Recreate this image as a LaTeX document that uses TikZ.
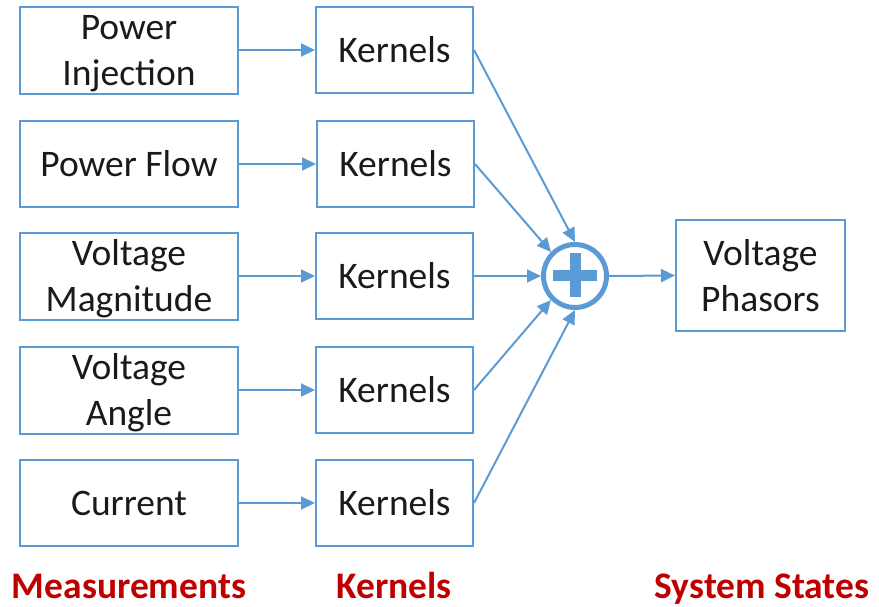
\documentclass[tikz,border=0pt]{standalone}
\usepackage{fontspec}
\setmainfont{Carlito}
\usetikzlibrary{arrows.meta}
\definecolor{boxblue}{HTML}{5B9BD5}
\definecolor{labred}{HTML}{C00000}
\definecolor{txt}{HTML}{1A1A1A}
\newcommand{\twoline}[2]{\rule{0pt}{33pt}#1\\#2\rule[-8pt]{0pt}{8pt}}
\begin{document}
\begin{tikzpicture}[x=1pt,y=-1pt,
  every node/.style={font=\fontsize{37.5}{46}\selectfont, text=txt},
  mbox/.style={draw=boxblue, line width=2pt, inner sep=0pt, minimum width=218pt, minimum height=86pt, align=center},
  kbox/.style={draw=boxblue, line width=2pt, inner sep=0pt, minimum width=157pt, minimum height=86pt, align=center},
  sbox/.style={draw=boxblue, line width=2pt, inner sep=0pt, minimum width=169pt, minimum height=111pt, align=center},
  arr/.style={draw=boxblue, line width=2pt, -{Triangle[length=14pt,width=13pt]}},
  lab/.style={font=\fontsize{37.5}{46}\selectfont\bfseries, text=labred, inner sep=0pt, anchor=base}]
\useasboundingbox (0,0) rectangle (879,606);
\node[mbox] (m1) at (129,50) {\twoline{Power}{Injection}};
\node[mbox] (m2) at (129,164) {Power Flow};
\node[mbox] (m3) at (129,276) {\twoline{Voltage}{Magnitude}};
\node[mbox] (m4) at (129,390) {\twoline{Voltage}{Angle}};
\node[mbox] (m5) at (129,503) {Current};
\node[kbox] (k1) at (394.5,50) {Kernels};
\node[kbox] (k2) at (395.5,164) {Kernels};
\node[kbox] (k3) at (394.5,276) {Kernels};
\node[kbox] (k4) at (394.5,390) {Kernels};
\node[kbox] (k5) at (394.5,503) {Kernels};
\node[draw=boxblue, line width=5pt, circle, inner sep=0pt, minimum size=63pt] (sum) at (575,276) {};
\fill[boxblue] (553,270) rectangle (597,281);
\fill[boxblue] (569.5,253) rectangle (580.5,297);
\node[sbox] (s) at (760.5,275.5) {\twoline{Voltage}{Phasors}};
\foreach \i in {1,...,5} {\draw[arr] (m\i.east) -- (k\i.west);}
\draw[arr] (k1.east) -- (sum.90);
\draw[arr] (k2.east) -- (sum.135);
\draw[arr] (k3.east) -- (sum.180);
\draw[arr] (k4.east) -- (sum.225);
\draw[arr] (k5.east) -- (sum.270);
\draw[arr] (sum.east) -- (s.west);
\node[lab] (l1) at (129,598) {Measurements};
\node[lab] (l2) at (394,598) {Kernels};
\node[lab] (l3) at (762,598) {System States};
\end{tikzpicture}
\end{document}
